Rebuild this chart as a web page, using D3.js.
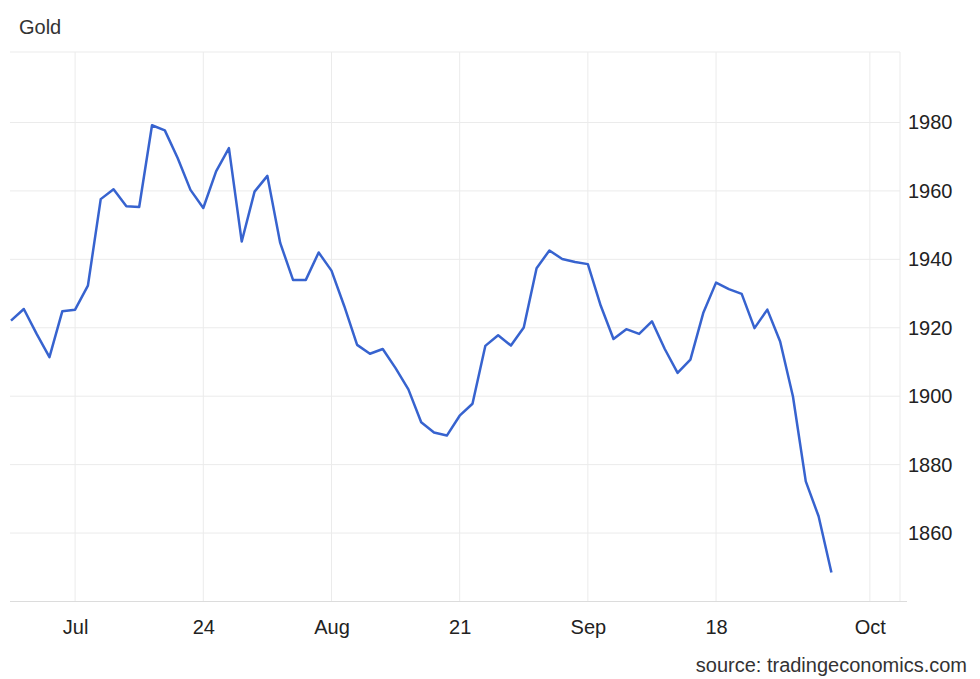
<!DOCTYPE html>
<html lang="en">
<head>
    <meta charset="UTF-8">
    <title>Gold</title>
    <script src="https://d3js.org/d3.v7.min.js"></script>
    <style>
        body { margin: 0; background: #fff; }
        text { font-family: "Liberation Sans", Arial, sans-serif; }
        .grid line { stroke: #ebebeb; stroke-width: 1; }
        .line { fill: none; stroke: #3763cf; stroke-width: 2.5; stroke-linejoin: round; }
    </style>
</head>
<body>
<div id="chart"></div>
<script type="text/javascript">
    // trading days, Jul 3 - Sep 29 2023
    const dates = [
        "Jul 3", "Jul 4", "Jul 5", "Jul 6", "Jul 7",
        "Jul 10", "Jul 11", "Jul 12", "Jul 13", "Jul 14",
        "Jul 17", "Jul 18", "Jul 19", "Jul 20", "Jul 21",
        "Jul 24", "Jul 25", "Jul 26", "Jul 27", "Jul 28",
        "Jul 31", "Aug 1", "Aug 2", "Aug 3", "Aug 4",
        "Aug 7", "Aug 8", "Aug 9", "Aug 10", "Aug 11",
        "Aug 14", "Aug 15", "Aug 16", "Aug 17", "Aug 18",
        "Aug 21", "Aug 22", "Aug 23", "Aug 24", "Aug 25",
        "Aug 28", "Aug 29", "Aug 30", "Aug 31", "Sep 1",
        "Sep 4", "Sep 5", "Sep 6", "Sep 7", "Sep 8",
        "Sep 11", "Sep 12", "Sep 13", "Sep 14", "Sep 15",
        "Sep 18", "Sep 19", "Sep 20", "Sep 21", "Sep 22",
        "Sep 25", "Sep 26", "Sep 27", "Sep 28", "Sep 29"
    ];
    const prices = [
        1922.1, 1925.5, 1918.2, 1911.4, 1924.8,
        1925.3, 1932.3, 1957.6, 1960.5, 1955.5,
        1955.3, 1979.2, 1977.7, 1969.6, 1960.3,
        1955.0, 1965.7, 1972.5, 1945.2, 1959.8,
        1964.4, 1944.8, 1934.0, 1934.0, 1942.0,
        1936.7, 1926.3, 1915.0, 1912.4, 1913.8,
        1908.2, 1902.0, 1892.4, 1889.4, 1888.5,
        1894.3, 1897.8, 1914.7, 1917.8, 1914.8,
        1920.1, 1937.4, 1942.6, 1940.1, 1939.2,
        1938.6, 1926.5, 1916.7, 1919.6, 1918.2,
        1921.9, 1913.8, 1906.8, 1910.7, 1924.3,
        1933.2, 1931.3, 1929.9, 1919.9, 1925.3,
        1916.0, 1899.9, 1875.1, 1864.9, 1848.5
    ];
    // x tick positions in trading-day index
    const xTickIndex = [5, 15, 25, 35, 45, 55, 67];
    const xTickLabels = ["Jul", "24", "Aug", "21", "Sep", "18", "Oct"];
    const yTicks = [1860, 1880, 1900, 1920, 1940, 1960, 1980];

    const W = 980, H = 679;
    const plotL = 11, plotR = 900, plotT = 52, plotB = 601.5;
    const fontSize = 20;

    const data = prices.map((p, i) => ({i: i, date: dates[i], price: p}));

    const x = d3.scaleLinear().domain([0, 69.35]).range([plotL, plotR]);
    const y = d3.scaleLinear().domain([1840, 2000.6]).range([plotB, plotT]);

    const svg = d3.select("#chart").append("svg")
        .attr("width", W)
        .attr("height", H);

    // grid
    const grid = svg.append("g").attr("class", "grid");
    grid.selectAll(".v")
        .data(xTickIndex)
        .join("line")
        .attr("x1", d => x(d)).attr("x2", d => x(d))
        .attr("y1", plotT).attr("y2", plotB);
    grid.selectAll(".h")
        .data(yTicks)
        .join("line")
        .attr("x1", 10).attr("x2", plotR)
        .attr("y1", d => y(d)).attr("y2", d => y(d));
    // frame: top and right border
    grid.append("line").attr("x1", 10).attr("x2", plotR).attr("y1", plotT).attr("y2", plotT);
    grid.append("line").attr("x1", plotR).attr("x2", plotR).attr("y1", plotT).attr("y2", plotB);

    // bottom axis
    const xAxis = svg.append("g")
        .attr("transform", `translate(0,${plotB})`)
        .call(d3.axisBottom(x).tickValues(xTickIndex)
            .tickFormat((d, k) => xTickLabels[k]).tickSize(0).tickPadding(18));
    xAxis.select(".domain").attr("stroke", "#dcdcdc").attr("d", `M10,0H907`);
    xAxis.selectAll("text").attr("font-size", fontSize).attr("fill", "#222")
        .attr("font-family", "'Liberation Sans', Arial, sans-serif");

    // right axis
    const yAxis = svg.append("g")
        .attr("transform", `translate(${plotR},0)`)
        .call(d3.axisRight(y).tickValues(yTicks).tickFormat(d3.format("d"))
            .tickSize(0).tickPadding(8));
    yAxis.select(".domain").remove();
    yAxis.selectAll("text").attr("font-size", fontSize).attr("fill", "#222")
        .attr("font-family", "'Liberation Sans', Arial, sans-serif");

    // price line
    const line = d3.line()
        .x(d => x(d.i))
        .y(d => y(d.price));

    svg.append("path")
        .datum(data)
        .attr("class", "line")
        .attr("d", line);

    // titles
    svg.append("text")
        .attr("x", 19).attr("y", 33.5)
        .attr("font-size", fontSize).attr("fill", "#333")
        .text("Gold");

    svg.append("text")
        .attr("x", 967).attr("y", 672)
        .attr("text-anchor", "end")
        .attr("font-size", fontSize).attr("fill", "#333")
        .text("source: tradingeconomics.com");
</script>
</body>
</html>
